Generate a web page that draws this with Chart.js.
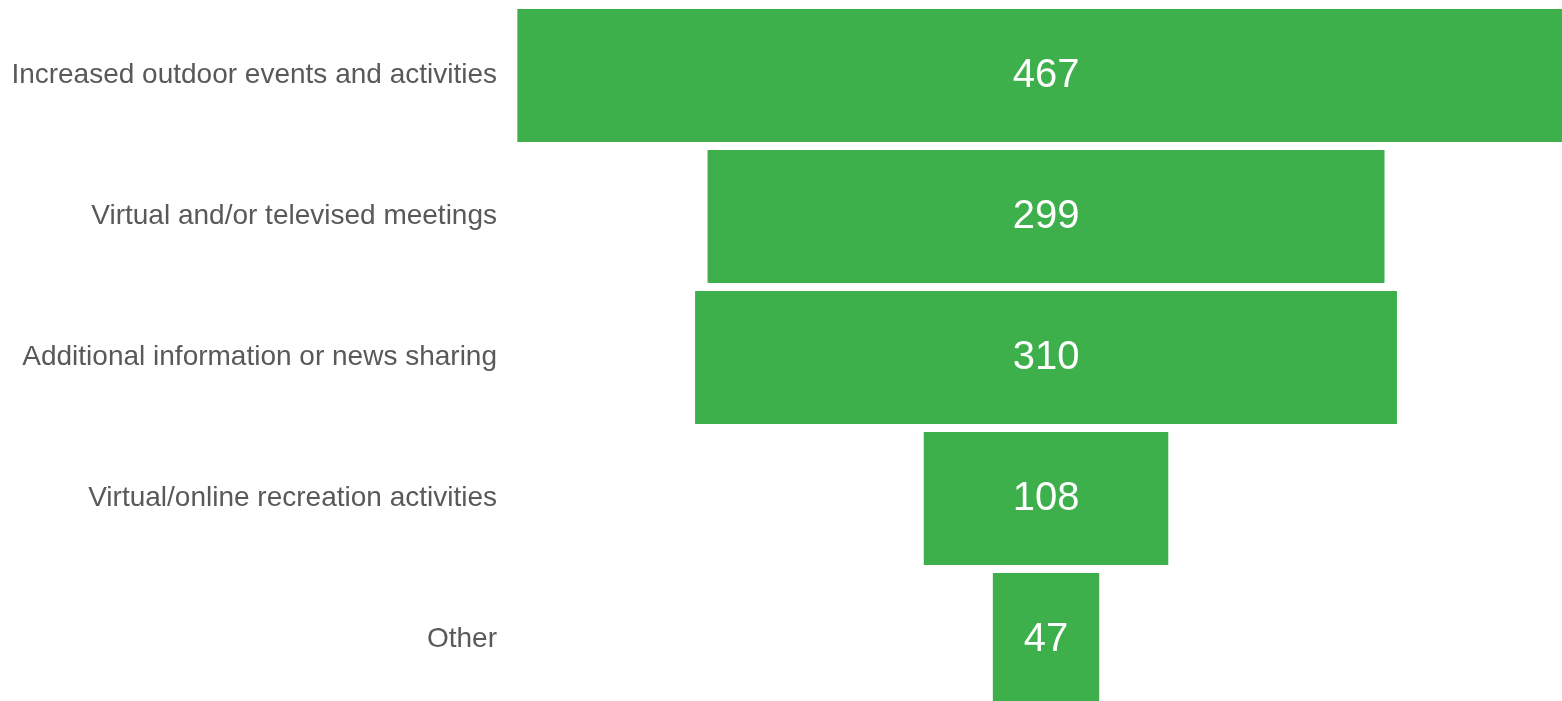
<!DOCTYPE html>
<html>
<head>
<meta charset="utf-8">
<script src="https://cdn.jsdelivr.net/npm/chart.js@4.4.1/dist/chart.umd.min.js"></script>
<style>
	html,body{margin:0;padding:0;background:#fff;overflow:hidden;}
	#wrap{position:relative;width:1562px;height:715px;}
</style>
</head>
<body>
<div id="wrap"><canvas id="mycanvas"></canvas></div>
<script>
var categories=[
	"Increased outdoor events and activities",
	"Virtual and/or televised meetings",
	"Additional information or news sharing",
	"Virtual/online recreation activities",
	"Other"
];
var counts=[467,299,310,108,47];

// funnel: each bar centred on zero
var spans=[];
for(var i in counts){
	spans.push([-counts[i]/2,counts[i]/2]);
}

var valueLabels={
	id:'valueLabels',
	afterDatasetsDraw:function(chart){
		var ctx=chart.ctx;
		var meta=chart.getDatasetMeta(0);
		ctx.save();
		ctx.fillStyle='#ffffff';
		ctx.font='40px "Liberation Sans", Arial, sans-serif';
		ctx.textAlign='center';
		ctx.textBaseline='middle';
		meta.data.forEach(function(bar,i){
			var cx=(bar.x+bar.base)/2;
			ctx.fillText(String(counts[i]),cx,bar.y);
		});
		ctx.restore();
	}
};

var chartdata={
	labels:categories,
	datasets:[
		{
			label:'responses',
			backgroundColor:'#3daf4b',
			borderWidth:0,
			barPercentage:0.943,
			categoryPercentage:1,
			data:spans
		}
	]
};

var ctx=document.getElementById('mycanvas');
var barGraph=new Chart(ctx,{
	type:'bar',
	data:chartdata,
	plugins:[valueLabels],
	options:{
		indexAxis:'y',
		responsive:true,
		maintainAspectRatio:false,
		animation:false,
		layout:{padding:{top:5,bottom:5,left:0,right:0}},
		plugins:{
			legend:{display:false},
			tooltip:{enabled:false}
		},
		scales:{
			x:{
				display:false,
				min:-236.75,
				max:227.9
			},
			y:{
				grid:{display:false,drawTicks:false},
				border:{display:false},
				afterFit:function(scale){
					scale.width=510;
					scale.paddingTop=0;
					scale.paddingBottom=0;
				},
				ticks:{
					padding:13,
					color:'#595959',
					font:{family:'"Liberation Sans", Arial, sans-serif',size:28}
				}
			}
		}
	}
});
</script>
</body>
</html>
